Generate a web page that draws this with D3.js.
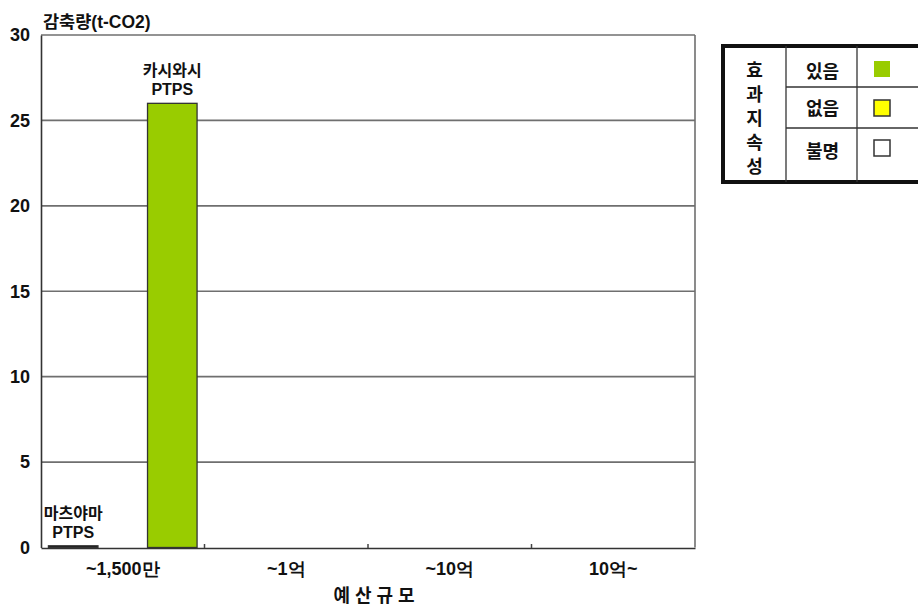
<!DOCTYPE html>
<html>
<head>
<meta charset="utf-8">
<script src="https://cdn.jsdelivr.net/npm/d3@7"></script>
<style>
  body { margin: 0; background: #fff; }
  svg { display: block; font-family: "Liberation Sans", "Noto Sans CJK KR", sans-serif; font-weight: bold; }
</style>
</head>
<body>
<svg id="chart" width="918" height="608"></svg>
<script>
// Budget-scale categories (x axis)
const categories = ["~1,500만", "~1억", "~10억", "10억~"];
// Projects: category, slot within category, reduction (t-CO2), effect persistence
const projectNames = ["마츠야마\nPTPS", "카시와시\nPTPS"];
const projectCategory = ["~1,500만", "~1,500만"];
const projectSlot = [0, 2];
const projectValues = [0.1, 26];
const projectEffect = ["있음", "있음"];
// Y ticks
const yTicks = [0, 5, 10, 15, 20, 25, 30];
// Legend entries
const legendLabels = ["있음", "없음", "불명"];
const legendColors = ["#99cc00", "#ffff00", "#ffffff"];

const svg = d3.select("#chart");
const margin = { left: 41, right: 223, top: 35, bottom: 60 };
const W = 918, H = 608;
const x0 = margin.left, x1 = W - margin.right;
const y0 = H - margin.bottom, y1 = margin.top;

const x = d3.scaleBand().domain(categories).range([x0, x1]);
const slot = d3.scaleBand().domain([0, 1, 2]).range([0, x.bandwidth()]).paddingOuter(0.15).paddingInner(0);
const y = d3.scaleLinear().domain([0, 30]).range([y0 - 0.5, y1]);
const color = d3.scaleOrdinal().domain(legendLabels).range(legendColors);

// Horizontal gridlines and frame
svg.append("g").selectAll("line").data(yTicks.filter(d => d > 0)).join("line")
  .attr("x1", x0).attr("x2", x1)
  .attr("y1", d => y(d)).attr("y2", d => y(d))
  .attr("stroke", "#6f6f6f").attr("stroke-width", 1.6);
svg.append("line").attr("x1", x1).attr("x2", x1).attr("y1", y(30)).attr("y2", y(0))
  .attr("stroke", "#6f6f6f").attr("stroke-width", 1.6);

// Y axis
const yAxis = svg.append("g").attr("transform", `translate(${x0},0)`)
  .call(d3.axisLeft(y).tickValues(yTicks).tickSize(0).tickPadding(11));
yAxis.select(".domain").attr("stroke", "#333").attr("stroke-width", 1.6);
yAxis.selectAll("text").attr("font-size", 18).attr("fill", "#111")
  .attr("font-family", "Liberation Sans, sans-serif");

// X axis
const xAxis = svg.append("g").attr("transform", `translate(0,${y0})`)
  .call(d3.axisBottom(x).tickSize(0).tickPadding(14));
xAxis.select(".domain").attr("stroke", "#333").attr("stroke-width", 1.6);
xAxis.selectAll("text").attr("font-size", 18).attr("fill", "#111");
// small ticks at category boundaries
svg.append("g").selectAll("line").data(categories.slice(1)).join("line")
  .attr("x1", d => x(d)).attr("x2", d => x(d))
  .attr("y1", y0 - 4).attr("y2", y0)
  .attr("stroke", "#444").attr("stroke-width", 1.5);

// Bars
const bars = projectValues.map((v, i) => ({
  name: projectNames[i], cat: projectCategory[i], slot: projectSlot[i], value: v, effect: projectEffect[i]
}));
svg.append("g").selectAll("rect").data(bars).join("rect")
  .attr("x", d => x(d.cat) + slot(d.slot))
  .attr("width", slot.bandwidth())
  .attr("y", d => y(d.value))
  .attr("height", d => y(0) - y(d.value))
  .attr("fill", d => d.value > 1 ? color(d.effect) : "#111")
  .attr("stroke", "#333").attr("stroke-width", 1.3);

// Bar labels
const lab = svg.append("g").selectAll("text").data(bars).join("text")
  .attr("text-anchor", "middle").attr("font-size", 16).attr("fill", "#111")
  .attr("x", d => x(d.cat) + slot(d.slot) + slot.bandwidth() / 2)
  .attr("y", d => y(d.value) - 27);
lab.selectAll("tspan").data(d => d.name.split("\n")).join("tspan")
  .attr("x", function () { return this.parentNode.getAttribute("x"); })
  .attr("dy", (d, i) => i === 0 ? 0 : 19)
  .text(d => d);

// Axis titles
svg.append("text").attr("x", 43).attr("y", 28).attr("font-size", 17.5).attr("fill", "#111")
  .text("감축량(t-CO2)");
svg.append("text").attr("x", 374).attr("y", 602).attr("text-anchor", "middle")
  .attr("font-size", 18).attr("fill", "#111")
  .text("예 산 규 모");

// Legend table
const lg = svg.append("g");
const lx = 723, ly = 46, lw = 200, lh = 136;
const col1 = 786, col2 = 857;
const rowY = [ly, 87, 128, ly + lh];
lg.append("rect").attr("x", lx).attr("y", ly).attr("width", lw).attr("height", lh)
  .attr("fill", "#fff").attr("stroke", "#111").attr("stroke-width", 4);
lg.append("line").attr("x1", col1).attr("x2", col1).attr("y1", ly).attr("y2", ly + lh).attr("stroke", "#333").attr("stroke-width", 1.3);
lg.append("line").attr("x1", col2).attr("x2", col2).attr("y1", ly).attr("y2", ly + lh).attr("stroke", "#333").attr("stroke-width", 1.3);
lg.selectAll(".rowline").data(rowY.slice(1, 3)).join("line")
  .attr("x1", col1).attr("x2", lx + lw).attr("y1", d => d).attr("y2", d => d)
  .attr("stroke", "#333").attr("stroke-width", 1.3);
// vertical title
lg.selectAll(".vt").data(["효", "과", "지", "속", "성"]).join("text")
  .attr("x", (lx + col1) / 2).attr("y", (d, i) => 77 + i * 24)
  .attr("text-anchor", "middle").attr("font-size", 18).attr("fill", "#111")
  .text(d => d);
lg.selectAll(".lt").data(legendLabels).join("text")
  .attr("x", (col1 + col2) / 2 + 1).attr("y", (d, i) => [78, 115, 158][i])
  .attr("text-anchor", "middle").attr("font-size", 18).attr("fill", "#111")
  .text(d => d);
lg.selectAll(".sw").data(legendLabels).join("rect")
  .attr("x", 874).attr("width", 16).attr("height", 16)
  .attr("y", (d, i) => [61, 100, 140][i])
  .attr("fill", d => color(d))
  .attr("stroke", (d, i) => i === 0 ? "none" : "#333").attr("stroke-width", 1.5);
</script>
</body>
</html>
